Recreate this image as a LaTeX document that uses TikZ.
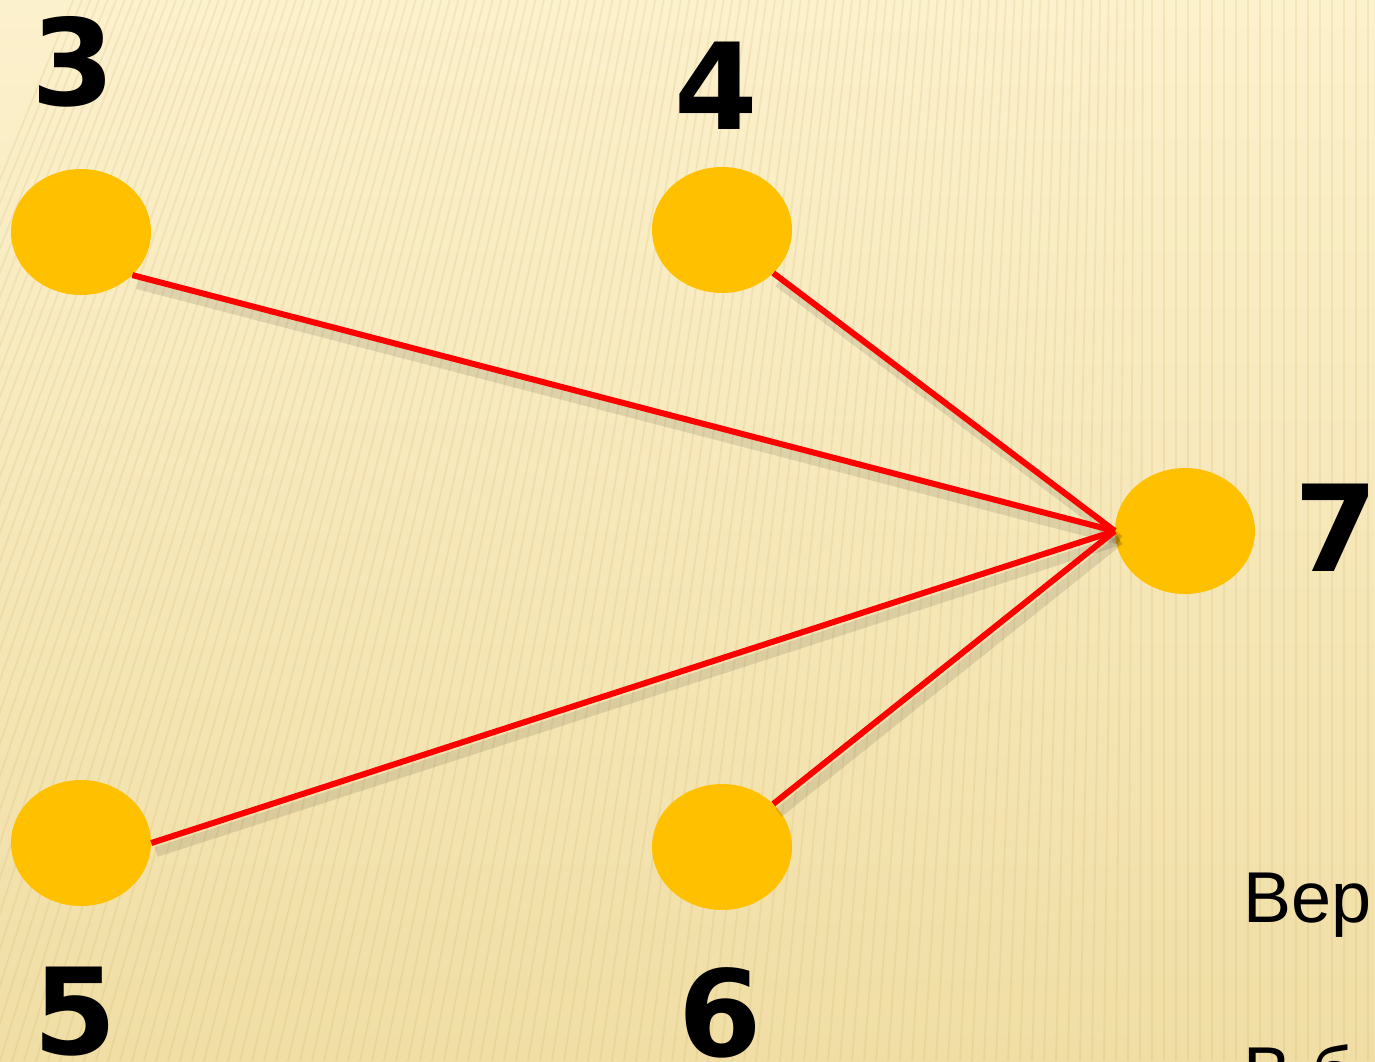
\documentclass[tikz,border=0pt]{standalone}
\usepackage{fontspec}
\setmainfont{DejaVu Sans}
\newfontfamily\arialfont{Liberation Sans}
\usetikzlibrary{shapes.geometric}
\definecolor{bgtop}{RGB}{252,241,205}
\definecolor{bgbot}{RGB}{240,222,165}
\definecolor{stripe}{RGB}{200,170,90}
\definecolor{dotgold}{RGB}{255,192,0}
\definecolor{edgered}{RGB}{255,0,0}
\tikzset{
  vertex/.style={ellipse, fill=dotgold, minimum width=140pt, minimum height=126pt, inner sep=0pt},
  edgeline/.style={edgered, line width=6pt},
  shadowline/.style={black, opacity=0.10, line width=10pt},
  numlabel/.style={font=\bfseries\fontsize{120}{120}\selectfont, text=black, inner sep=0pt},
  bodytext/.style={font=\arialfont\fontsize{72}{72}\selectfont, text=black, inner sep=0pt, anchor=base west}
}
\begin{document}
\begin{tikzpicture}[x=1pt,y=-1pt]
\useasboundingbox (0,0) rectangle (1375,1061);
\clip (0,0) rectangle (1375,1061);
\shade[top color=bgtop, bottom color=bgbot] (0,0) rectangle (1375,1061);
\foreach \x in {-360,-348,...,1380} {
  \pgfmathsetmacro\s{max(0,330*(1-\x/1150))}
  \draw[stripe, opacity=0.16, line width=1.8pt] (\x,1061) -- (\x+\s,0);
}
% vertices
\node[vertex] (n3) at (81,232) {};
\node[vertex] (n4) at (722,230) {};
\node[vertex] (n7) at (1185,531) {};
\node[vertex] (n5) at (81,843) {};
\node[vertex] (n6) at (722,847) {};
% shadows
\draw[shadowline] ([shift={(5pt,-9pt)}]n3.-40) -- ([shift={(5pt,-9pt)}]n7.west);
\draw[shadowline] ([shift={(5pt,-9pt)}]n4.-40) -- ([shift={(5pt,-9pt)}]n7.west);
\draw[shadowline] ([shift={(5pt,-9pt)}]n5.east) -- ([shift={(5pt,-9pt)}]n7.west);
\draw[shadowline] ([shift={(5pt,-9pt)}]n6.40) -- ([shift={(5pt,-9pt)}]n7.west);
% edges
\draw[edgeline] (n3.-40) -- (n7.west);
\draw[edgeline] (n4.-40) -- (n7.west);
\draw[edgeline] (n5.east) -- (n7.west);
\draw[edgeline] (n6.40) -- (n7.west);
% labels
\node[numlabel] (l3) at (73,62) {3};
\node[numlabel] (l4) at (716,86) {4};
\node[numlabel] (l7) at (1336,528) {7};
\node[numlabel] (l5) at (75,1012) {5};
\node[numlabel] (l6) at (720,1013) {6};
\node[bodytext] (t1) at (1243,922) {Вер};
\node[bodytext] (t2) at (1243,1097) {В б};
\end{tikzpicture}
\end{document}
